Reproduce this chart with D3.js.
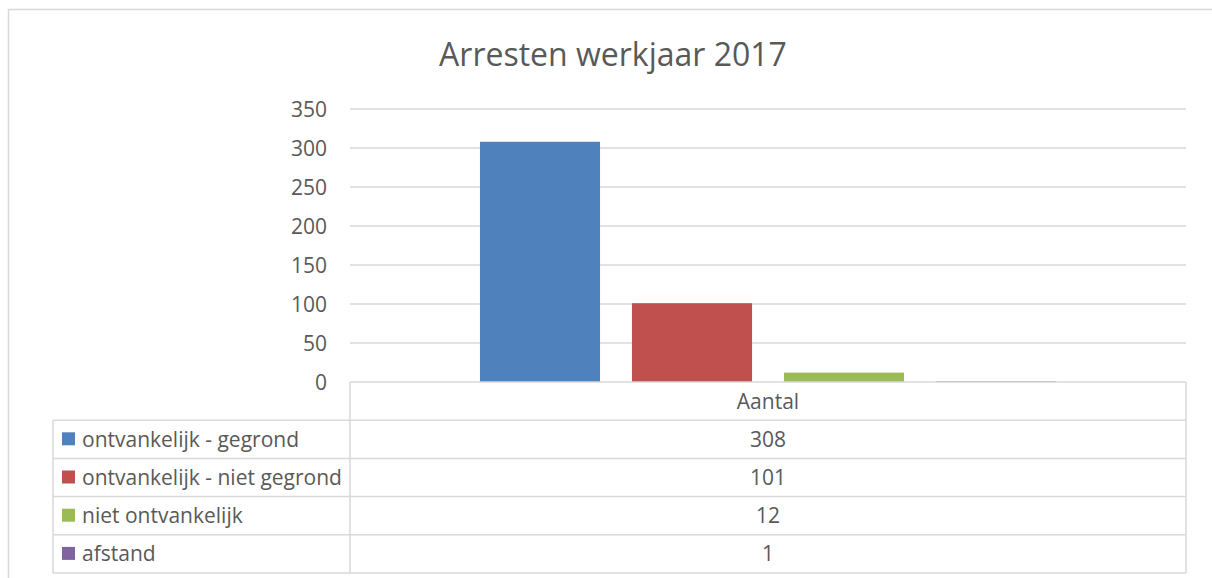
<!DOCTYPE html>
<html>
  <head>
  <meta charset="utf-8">
  <script src="https://cdn.jsdelivr.net/npm/d3@7"></script>
  <style>
body { margin: 0; background: #fff; }
text { font-family: "Open Sans", sans-serif; fill: #595959; }
.grid line { stroke: #d9d9d9; stroke-width: 1.5; }
.table line { stroke: #d9d9d9; stroke-width: 1.5; }
  </style>
 </head>
  <body>
    <div id="chart"></div>
    <script type="text/javascript">

var title = "Arresten werkjaar 2017";
var categories = ["Aantal"];
var series = ["ontvankelijk - gegrond", "ontvankelijk - niet gegrond", "niet ontvankelijk", "afstand"];
var values = [308, 101, 12, 1];
var colors = ["#4f81bd", "#c0504d", "#9bbb59", "#8064a2"];
var yTicks = [0, 50, 100, 150, 200, 250, 300, 350];

var w = 1212,
    h = 578;

var svg = d3.select("#chart").append("svg")
    .attr("width", w)
    .attr("height", h);

// outer chart frame
svg.append("rect")
    .attr("x", 8.5)
    .attr("y", 9.5)
    .attr("width", w + 20)
    .attr("height", h + 20)
    .style("fill", "none")
    .style("stroke", "#d9d9d9")
    .style("stroke-width", 1.5);

svg.append("text")
    .attr("x", 613)
    .attr("y", 66)
    .attr("text-anchor", "middle")
    .style("font-size", "32px")
    .text(title);

var plotLeft = 350, plotRight = 1186,
    tableLeft = 53, rowH = 38.2;

var y = d3.scaleLinear()
    .domain([0, 350])
    .range([382, 109]);

var x0 = d3.scaleBand()
    .domain(categories)
    .range([plotLeft, plotRight]);

var x1 = d3.scaleBand()
    .domain(series)
    .range([0, x0.bandwidth()])
    .paddingInner(0.21)
    .paddingOuter(0.855);

var grid = svg.append("g").attr("class", "grid");
grid.selectAll("line")
    .data(yTicks.filter(function(d) { return d > 0; }))
  .enter().append("line")
    .attr("x1", plotLeft)
    .attr("x2", plotRight)
    .attr("y1", function(d) { return y(d); })
    .attr("y2", function(d) { return y(d); });

svg.append("g").selectAll("text")
    .data(yTicks)
  .enter().append("text")
    .attr("x", 327)
    .attr("y", function(d) { return y(d); })
    .attr("dy", "0.36em")
    .attr("text-anchor", "end")
    .style("font-size", "21px")
    .text(function(d) { return d; });

svg.append("g").selectAll("rect")
    .data(values)
  .enter().append("rect")
    .attr("x", function(d, i) { return x0(categories[0]) + x1(series[i]); })
    .attr("y", function(d) { return y(d); })
    .attr("width", x1.bandwidth())
    .attr("height", function(d) { return y(0) - y(d); })
    .style("fill", function(d, i) { return colors[i]; });

// data table
var top0 = y(0);
var rowY = function(i) { return top0 + rowH * (i + 1); };
var table = svg.append("g").attr("class", "table");

table.append("line")
    .attr("x1", plotLeft).attr("x2", plotRight)
    .attr("y1", top0).attr("y2", top0);

table.selectAll("line.row")
    .data(d3.range(series.length + 1))
  .enter().append("line")
    .attr("class", "row")
    .attr("x1", tableLeft).attr("x2", plotRight)
    .attr("y1", function(i) { return rowY(i); })
    .attr("y2", function(i) { return rowY(i); });

table.append("line")
    .attr("x1", plotLeft).attr("x2", plotLeft)
    .attr("y1", top0).attr("y2", rowY(series.length));
table.append("line")
    .attr("x1", plotRight).attr("x2", plotRight)
    .attr("y1", top0).attr("y2", rowY(series.length));
table.append("line")
    .attr("x1", tableLeft).attr("x2", tableLeft)
    .attr("y1", rowY(0)).attr("y2", rowY(series.length));

svg.append("text")
    .attr("x", x0(categories[0]) + x0.bandwidth() / 2)
    .attr("y", top0 + rowH / 2)
    .attr("dy", "0.36em")
    .attr("text-anchor", "middle")
    .style("font-size", "21px")
    .text(categories[0]);

var rows = svg.append("g").selectAll("g")
    .data(series)
  .enter().append("g")
    .attr("transform", function(d, i) { return "translate(0," + (rowY(i) + rowH / 2) + ")"; });

rows.append("rect")
    .attr("x", 62)
    .attr("y", -7)
    .attr("width", 13)
    .attr("height", 13)
    .style("fill", function(d, i) { return colors[i]; });

rows.append("text")
    .attr("x", 82)
    .attr("dy", "0.36em")
    .style("font-size", "21px")
    .text(function(d) { return d; });

rows.append("text")
    .attr("x", x0(categories[0]) + x0.bandwidth() / 2)
    .attr("dy", "0.36em")
    .attr("text-anchor", "middle")
    .style("font-size", "21px")
    .text(function(d, i) { return values[i]; });

    </script>
  </body>
</html>
